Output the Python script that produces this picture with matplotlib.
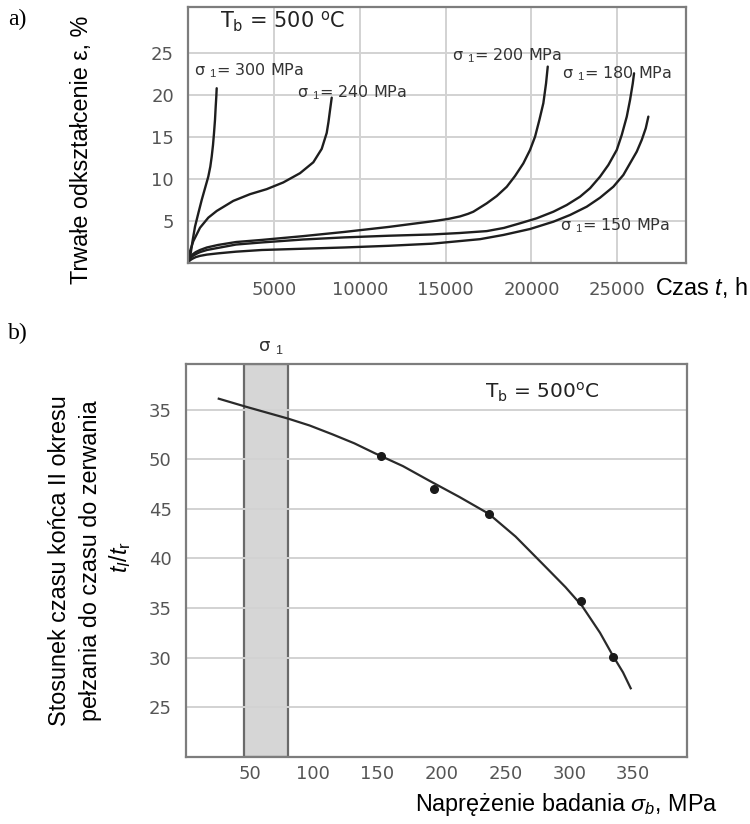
import matplotlib
matplotlib.use('Agg')
import matplotlib.pyplot as plt

plt.rcParams['font.family'] = ['Liberation Sans', 'DejaVu Sans']
plt.rcParams['mathtext.fontset'] = 'custom'
plt.rcParams['mathtext.rm'] = 'Liberation Sans'
plt.rcParams['mathtext.it'] = 'Liberation Sans:italic'
plt.rcParams['mathtext.bf'] = 'Liberation Sans:bold'

# --- a) creep curves at 500 C: time [h] vs permanent strain [%] ---
t300 = [0, 157, 274, 408, 600, 798, 990, 1182, 1299, 1380, 1456, 1514, 1572, 1613, 1648, 1671]
e300 = [0, 1.15, 2.74, 4.33, 5.92, 7.51, 8.9, 10.29, 11.48, 12.67, 14.06, 15.46, 17.05, 18.63,
        19.83, 20.82]

t240 = [0, 116, 309, 699, 1182, 1672, 2638, 3611, 4584, 5550, 6523, 7298, 7787, 8078, 8180,
        8270, 8369]
e240 = [0, 1.4, 2.6, 4.2, 5.4, 6.2, 7.4, 8.2, 8.8, 9.6, 10.7, 12.0, 13.6, 15.5, 16.8,
        18.2, 19.7]

t200 = [0, 100, 250, 450, 700, 1100, 1750, 2800, 4300, 6700, 9100, 11700, 14485, 15200,
        15841, 16300, 16616, 17397, 17979, 18561, 19045, 19528, 19918, 20210, 20460, 20693,
        20850, 20949]
e200 = [0, 0.55, 1.0, 1.3, 1.55, 1.85, 2.15, 2.5, 2.75, 3.2, 3.7, 4.3, 5.04, 5.27,
        5.55, 5.85, 6.11, 7.11, 7.98, 9.08, 10.37, 11.87, 13.47, 15.05, 17.03, 19.04,
        21.4, 23.4]

t180 = [0, 100, 250, 450, 700, 1100, 1750, 2800, 4300, 6700, 9100, 11700, 14200, 15800,
        17397, 18400, 19336, 20309, 21276, 22056, 22830, 23413, 23995, 24479, 24968, 25259,
        25550, 25742, 25900, 25975]
e180 = [0, 0.45, 0.8, 1.05, 1.3, 1.55, 1.8, 2.2, 2.45, 2.8, 3.05, 3.25, 3.4, 3.57,
        3.8, 4.18, 4.73, 5.33, 6.11, 6.91, 7.9, 8.91, 10.29, 11.68, 13.47, 15.26,
        17.43, 19.43, 21.4, 22.6]

t150 = [0, 100, 250, 450, 700, 1100, 1750, 2800, 4300, 6700, 9100, 11700, 14200, 15451,
        17006, 18363, 19918, 21276, 22248, 23221, 23995, 24770, 25352, 25742, 26133, 26424,
        26657, 26808]
e150 = [0, 0.3, 0.5, 0.7, 0.85, 1.0, 1.15, 1.35, 1.55, 1.7, 1.85, 2.05, 2.3, 2.54,
        2.84, 3.34, 4.05, 4.92, 5.72, 6.71, 7.78, 9.09, 10.49, 11.88, 13.27, 14.67,
        16.06, 17.44]

stress_labels = ['σ $_1$= 300 MPa', 'σ $_1$= 240 MPa', 'σ $_1$= 200 MPa',
                 'σ $_1$= 180 MPa', 'σ $_1$= 150 MPa']
time_ticks = [5000, 10000, 15000, 20000, 25000]
strain_ticks = [5, 10, 15, 20, 25]

# --- b) ratio t_I/t_r vs test stress ---
curve_sigma = [26, 47, 80, 97, 115, 132, 148, 170, 191, 214, 237, 258, 281, 297, 310, 324,
               334, 342, 348]
curve_ratio = [56.1, 55.3, 54.1, 53.4, 52.5, 51.6, 50.6, 49.3, 47.8, 46.2, 44.5, 42.2, 39.2,
               37.1, 35.2, 32.5, 30.2, 28.5, 26.9]
point_sigma = [153, 194, 237, 309, 334]
point_ratio = [50.3, 47.0, 44.5, 35.7, 30.1]
band_sigma = [46, 80]
sigma_ticks = [50, 100, 150, 200, 250, 300, 350]
ratio_ticks = [25, 30, 35, 40, 45, 50, 55]
ratio_ticklabels = ['25', '30', '35', '40', '45', '50', '35']

W, H = 750, 824
fig = plt.figure(figsize=(W / 100, H / 100), dpi=100)
LABEL = 16.8


def box(left, top, right, bottom):
    return [left / W, 1 - bottom / H, (right - left) / W, (bottom - top) / H]


def style(ax, pad_x, pad_y):
    for s in ax.spines.values():
        s.set_color('#7d7d7d')
        s.set_linewidth(1.6)
    ax.tick_params(length=0, labelsize=13, labelcolor='#555555')
    ax.tick_params(axis='x', pad=pad_x)
    ax.tick_params(axis='y', pad=pad_y)
    for lab in ax.get_xticklabels() + ax.get_yticklabels():
        lab.set_family('DejaVu Sans')


# panel a
ax1 = fig.add_axes(box(188, 7, 686, 263))
ax1.set_xlim(0, 29000)
ax1.set_ylim(0, 30.5)
ax1.set_xticks(time_ticks)
ax1.set_yticks(strain_ticks)
style(ax1, 13, 10)
ax1.grid(True, color='#d2d2d2', lw=1.4)
for t, e in [(t300, e300), (t240, e240), (t200, e200), (t180, e180), (t150, e150)]:
    ax1.plot(t, e, color='#1e1e1e', lw=1.7, solid_capstyle='round', solid_joinstyle='round')

label_pos = [(350, 22.9), (6350, 20.3), (15375, 24.7), (21780, 22.6), (21665, 4.5)]
for txt, (x, y) in zip(stress_labels, label_pos):
    ax1.text(x, y, txt, fontsize=11.5, family='DejaVu Sans', color='#333333',
             va='center', ha='left')
ax1.text(1860, 28.7, 'T$_\\mathregular{b}$ = 500 $^\\mathregular{o}$C', fontsize=15,
         family='DejaVu Sans', color='#222222', va='center', ha='left')

fig.text(82 / W, 1 - 150 / H, 'Trwałe odkształcenie ε, %', rotation=90,
         fontsize=LABEL, ha='center', va='center')
fig.text(655 / W, 1 - 288 / H, 'Czas $t$, h', fontsize=LABEL, ha='left', va='center')
fig.text(8 / W, 1 - 19 / H, 'a)', family='Liberation Serif', fontsize=17, va='center')

# panel b
ax2 = fig.add_axes(box(185.5, 364, 687, 756.7))
ax2.set_xlim(0, 392)
ax2.set_ylim(20, 59.6)
ax2.set_xticks(sigma_ticks)
ax2.set_yticks(ratio_ticks)
ax2.set_yticklabels(ratio_ticklabels)
style(ax2, 6, 10)
ax2.grid(True, axis='y', color='#d2d2d2', lw=1.4)
ax2.axvspan(band_sigma[0], band_sigma[1], facecolor='#d6d6d6', edgecolor='#6a6a6a',
            lw=1.6, zorder=1)
ax2.plot(curve_sigma, curve_ratio, color='#2a2a2a', lw=1.6, solid_joinstyle='round')
ax2.plot(point_sigma, point_ratio, 'o', color='#1a1a1a', ms=5.5)
ax2.text(234, 56.7, 'T$_\\mathregular{b}$ = 500$^\\mathregular{o}$C', fontsize=14.5,
         family='DejaVu Sans', color='#222222', va='center', ha='left')
ax2.text(sum(band_sigma) / 2 + 4, 61.3, 'σ $_1$', fontsize=13, family='DejaVu Sans',
         color='#333333', ha='center', va='center')

fig.text(60 / W, 1 - 561 / H, 'Stosunek czasu końca II okresu', rotation=90,
         fontsize=LABEL, ha='center', va='center')
fig.text(91 / W, 1 - 561 / H, 'pełzania do czasu do zerwania', rotation=90,
         fontsize=LABEL, ha='center', va='center')
fig.text(120 / W, 1 - 557 / H, '$t_I/t_\\mathregular{r}$', rotation=90,
         fontsize=LABEL, ha='center', va='center')
fig.text(566 / W, 1 - 805 / H, 'Naprężenie badania $\\sigma_b$, MPa', fontsize=LABEL,
         ha='center', va='center')
fig.text(8 / W, 1 - 333 / H, 'b)', family='Liberation Serif', fontsize=17, va='center')

fig.savefig('out.png', dpi=100)
